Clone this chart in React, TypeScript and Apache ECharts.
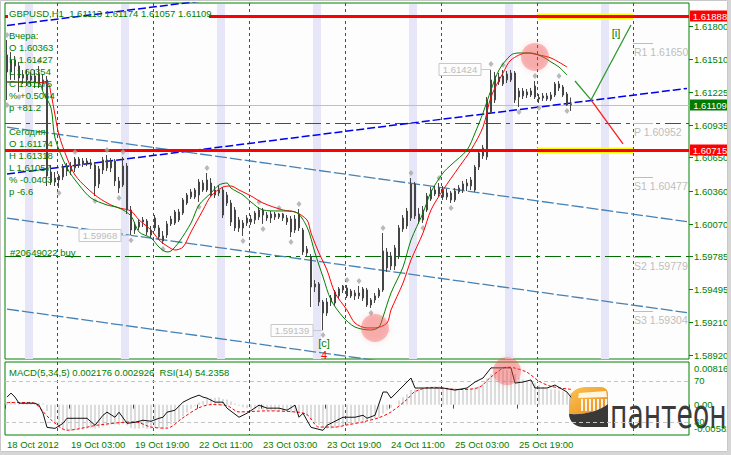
import React, { useEffect, useRef } from "react";
import * as echarts from "echarts";

const FONT = "'Liberation Sans', Arial, sans-serif";
const GREEN = "#008000";

// ---------------- data ----------------
const timeLabels = ["18 Oct 2012", "19 Oct 03:00", "19 Oct 19:00", "22 Oct 11:00", "23 Oct 03:00", "23 Oct 19:00", "24 Oct 11:00", "25 Oct 03:00", "25 Oct 19:00"];
const barSlots = 171;
const categories = Array.from({ length: barSlots }, (_, i) => String(i));

const opens = [1.61546,1.61398,1.61503,1.61450,1.61345,1.61371,1.61328,1.61363,1.61380,1.61293,
1.61328,1.60522,1.60435,1.60452,1.60479,1.60566,1.60531,1.60558,1.60636,1.60592,
1.60619,1.60601,1.60584,1.60418,1.60540,1.60628,1.60558,1.60619,1.60444,1.60409,
1.60575,1.60190,1.60015,1.60041,1.60085,1.60094,1.60015,1.60120,1.60033,1.59963,
1.59971,1.60068,1.60076,1.60173,1.60164,1.60251,1.60304,1.60304,1.60321,1.60426,
1.60365,1.60426,1.60321,1.60365,1.60365,1.60321,1.60251,1.60190,1.60103,1.60076,
1.60076,1.60111,1.60103,1.60129,1.60190,1.60146,1.60120,1.60155,1.60129,1.60155,
1.60120,1.60111,1.60015,1.60033,1.60015,1.59849,1.59779,1.59516,1.59543,1.59385,
1.59289,1.59385,1.59376,1.59438,1.59490,1.59508,1.59438,1.59464,1.59438,1.59420,
1.59490,1.59359,1.59403,1.59438,1.59490,1.59823,1.59788,1.59700,1.59788,1.60024,
1.60050,1.60120,1.60418,1.60155,1.60103,1.60190,1.60286,1.60365,1.60330,1.60363,
1.60304,1.60339,1.60278,1.60348,1.60365,1.60400,1.60400,1.60365,1.60566,1.60663,
1.60654,1.61048,1.61153,1.61310,1.61293,1.61328,1.61328,1.61389,1.61231,1.61188,
1.61223,1.61196,1.61179,1.61174,1.61170,1.61161,1.61161,1.61196,1.61293,1.61266,
1.61205,1.61113];

const closes = [1.61398,1.61503,1.61450,1.61345,1.61371,1.61328,1.61363,1.61310,1.61293,1.61328,
1.60488,1.60435,1.60470,1.60488,1.60566,1.60531,1.60575,1.60636,1.60592,1.60619,
1.60601,1.60584,1.60400,1.60549,1.60628,1.60558,1.60619,1.60444,1.60382,1.60575,
1.60190,1.60015,1.60050,1.60085,1.60103,1.59998,1.59971,1.60033,1.59954,1.59919,
1.60068,1.60111,1.60173,1.60103,1.60278,1.60321,1.60348,1.60365,1.60435,1.60365,
1.60453,1.60321,1.60365,1.60339,1.60146,1.60251,1.60085,1.60033,1.60033,1.60033,
1.60120,1.60085,1.60164,1.60190,1.60146,1.60120,1.60155,1.60129,1.60155,1.60120,
1.60085,1.59998,1.60111,1.60155,1.59823,1.59814,1.59516,1.59543,1.59385,1.59289,
1.59385,1.59420,1.59473,1.59499,1.59525,1.59438,1.59481,1.59438,1.59464,1.59499,
1.59359,1.59403,1.59438,1.59490,1.59831,1.59683,1.59700,1.59858,1.60033,1.60120,
1.60181,1.60418,1.60138,1.60103,1.60190,1.60313,1.60365,1.60330,1.60383,1.60304,
1.60339,1.60278,1.60356,1.60383,1.60418,1.60426,1.60453,1.60566,1.60689,1.60733,
1.61153,1.61328,1.61363,1.61354,1.61363,1.61380,1.61389,1.61153,1.61179,1.61231,
1.61196,1.61231,1.61275,1.61161,1.61188,1.61188,1.61196,1.61293,1.61258,1.61196,
1.61109,1.61109];

const lows = [1.61153,1.61328,1.61328,1.61223,1.61293,1.61275,1.61275,1.61258,1.61258,1.61240,
1.60400,1.60409,1.60400,1.60382,1.60452,1.60488,1.60496,1.60522,1.60558,1.60566,
1.60575,1.60549,1.60312,1.60382,1.60505,1.60531,1.60522,1.60400,1.60339,1.60391,
1.60155,1.59968,1.59980,1.60015,1.60041,1.59971,1.59945,1.60006,1.59928,1.59893,
1.59945,1.60050,1.60059,1.60085,1.60146,1.60234,1.60286,1.60286,1.60260,1.60348,
1.60348,1.60304,1.60295,1.60313,1.60120,1.60225,1.60050,1.60006,1.59998,1.59963,
1.60050,1.60059,1.60068,1.60103,1.60068,1.60094,1.60076,1.60103,1.60111,1.60094,
1.60059,1.59954,1.59989,1.60006,1.59796,1.59788,1.59341,1.59473,1.59350,1.59139,
1.59263,1.59350,1.59350,1.59411,1.59464,1.59420,1.59420,1.59403,1.59411,1.59394,
1.59341,1.59333,1.59376,1.59420,1.59473,1.59648,1.59665,1.59665,1.59761,1.59998,
1.60024,1.60094,1.60111,1.60068,1.60076,1.60173,1.60269,1.60313,1.60304,1.60278,
1.60278,1.60251,1.60260,1.60330,1.60339,1.60356,1.60365,1.60348,1.60540,1.60636,
1.60628,1.61030,1.61126,1.61284,1.61275,1.61301,1.61310,1.61126,1.61091,1.61161,
1.61170,1.61179,1.61161,1.61126,1.61144,1.61144,1.61144,1.61179,1.61231,1.61179,
1.61100,1.61057];

const highs = [1.61678,1.61573,1.61538,1.61485,1.61415,1.61415,1.61398,1.61415,1.61450,1.61380,
1.61363,1.60584,1.60522,1.60505,1.60592,1.60601,1.60610,1.60654,1.60654,1.60645,
1.60645,1.60636,1.60610,1.60575,1.60654,1.60671,1.60645,1.60636,1.60479,1.60654,
1.60601,1.60225,1.60085,1.60111,1.60129,1.60111,1.60050,1.60146,1.60059,1.60006,
1.60094,1.60138,1.60190,1.60199,1.60295,1.60339,1.60374,1.60383,1.60461,1.60453,
1.60514,1.60470,1.60400,1.60409,1.60391,1.60348,1.60278,1.60216,1.60129,1.60103,
1.60146,1.60146,1.60181,1.60216,1.60208,1.60173,1.60181,1.60173,1.60164,1.60164,
1.60146,1.60138,1.60146,1.60199,1.60033,1.59875,1.59805,1.59578,1.59560,1.59403,
1.59420,1.59446,1.59490,1.59516,1.59534,1.59534,1.59499,1.59490,1.59525,1.59516,
1.59508,1.59420,1.59464,1.59508,1.59989,1.59858,1.59823,1.59884,1.60059,1.60146,
1.60208,1.60470,1.60435,1.60208,1.60225,1.60339,1.60391,1.60400,1.60426,1.60400,
1.60374,1.60356,1.60383,1.60409,1.60444,1.60461,1.60479,1.60584,1.60715,1.60759,
1.61179,1.61424,1.61398,1.61389,1.61415,1.61406,1.61415,1.61406,1.61258,1.61258,
1.61249,1.61258,1.61319,1.61205,1.61214,1.61214,1.61223,1.61310,1.61318,1.61284,
1.61223,1.61174];

const fractalHighBars = [0, 8, 17, 25, 29, 50, 63, 68, 73, 85, 88, 94, 101, 108, 121, 124, 132, 138];
const fractalLowBars = [0, 3, 13, 22, 28, 31, 39, 48, 59, 64, 71, 79, 91, 104, 111, 128, 133, 140];

const maSlow = [[0,1.61310],[10,1.61301],[11,1.61205],[12,1.61021],[13,1.60846],[15,1.60645],[17,1.60496],[20,1.60382],[23,1.60295],[26,1.60234],[28,1.60208],[31,1.60181],[33,1.60103],[36,1.60015],[38,1.59928],[40,1.59875],[42,1.59840],[44,1.59866],[46,1.59998],[49,1.60190],[51,1.60313],[54,1.60391],[56,1.60400],[58,1.60365],[61,1.60313],[64,1.60251],[69,1.60190],[72,1.60173],[75,1.60103],[76,1.59989],[78,1.59814],[80,1.59665],[82,1.59464],[85,1.59315],[87,1.59201],[90,1.59158],[92,1.59158],[95,1.59201],[96,1.59315],[99,1.59551],[101,1.59753],[104,1.59989],[106,1.60190],[109,1.60365],[113,1.60566],[116,1.60715],[119,1.60916],[121,1.61179],[124,1.61389],[126,1.61503],[130,1.61564],[133,1.61546],[136,1.61520],[140,1.61441]];
const maFast = [[0,1.61310],[8,1.61301],[9,1.61223],[11,1.61083],[12,1.60820],[15,1.60558],[18,1.60409],[21,1.60295],[25,1.60234],[28,1.60208],[31,1.60138],[33,1.59998],[36,1.59945],[38,1.59866],[40,1.59823],[41,1.59831],[43,1.59910],[46,1.60076],[48,1.60234],[51,1.60339],[53,1.60409],[55,1.60426],[56,1.60382],[59,1.60321],[61,1.60260],[64,1.60190],[72,1.60173],[75,1.60041],[77,1.59814],[79,1.59604],[81,1.59403],[84,1.59254],[87,1.59166],[91,1.59140],[93,1.59166],[94,1.59254],[96,1.59464],[99,1.59691],[101,1.59928],[104,1.60164],[106,1.60348],[109,1.60514],[111,1.60584],[115,1.60715],[117,1.60864],[119,1.61039],[121,1.61240],[123,1.61415],[126,1.61546],[128,1.61564],[131,1.61564],[134,1.61529],[136,1.61485],[138,1.61441],[140,1.61371]];

const macdHist = [0.0005,0.0006,0.0006,0.0005,0.0004,0.0004,0.0004,0.0003,0.0003,0.0002,
-0.0012,-0.0025,-0.0036,-0.0044,-0.0048,-0.0050,-0.0050,-0.0049,-0.0048,-0.0047,
-0.0046,-0.0045,-0.0046,-0.0045,-0.0042,-0.0040,-0.0038,-0.0038,-0.0039,-0.0036,
-0.0040,-0.0045,-0.0046,-0.0046,-0.0045,-0.0046,-0.0046,-0.0044,-0.0045,-0.0046,
-0.0042,-0.0038,-0.0033,-0.0029,-0.0022,-0.0015,-0.0008,-0.0002,0.0004,0.0007,
0.0011,0.0012,0.0013,0.0014,0.0011,0.0010,0.0006,0.0002,-0.0002,-0.0005,
-0.0007,-0.0008,-0.0009,-0.0009,-0.0010,-0.0011,-0.0011,-0.0012,-0.0012,-0.0013,
-0.0013,-0.0015,-0.0016,-0.0016,-0.0019,-0.0022,-0.0029,-0.0034,-0.0039,-0.0044,
-0.0046,-0.0046,-0.0045,-0.0043,-0.0041,-0.0039,-0.0037,-0.0035,-0.0033,-0.0031,
-0.0030,-0.0029,-0.0027,-0.0025,-0.0017,-0.0011,-0.0006,0.0000,0.0008,0.0014,
0.0020,0.0028,0.0029,0.0029,0.0030,0.0032,0.0034,0.0035,0.0035,0.0034,
0.0033,0.0031,0.0031,0.0031,0.0031,0.0031,0.0031,0.0033,0.0036,0.0040,
0.0050,0.0058,0.0063,0.0066,0.0067,0.0066,0.0065,0.0058,0.0052,0.0048,
0.0045,0.0042,0.0041,0.0037,0.0034,0.0031,0.0029,0.0029,0.0027,0.0025,
0.0023,0.002176];

const macdSignal = [[0,0.0004],[6,0.0004],[11,-0.0029],[15,-0.0049],[23,-0.0039],[32,-0.0033],[36,-0.0043],[40,-0.0045],[44,-0.0025],[48,-0.0006],[51,0.0000],[55,-0.0002],[58,-0.0014],[65,-0.0012],[72,-0.0014],[75,-0.0019],[78,-0.0043],[82,-0.0043],[85,-0.0039],[89,-0.0033],[93,-0.0025],[96,-0.0014],[100,0.0010],[102,0.0025],[106,0.0033],[113,0.0029],[118,0.0033],[121,0.0053],[125,0.0072],[127,0.0070],[130,0.0062],[133,0.0045],[136,0.0035],[141,0.002926]];

const rsi = [[0,54.4],[1,58.3],[2,54.4],[3,48.5],[7,48.5],[8,46.6],[9,38.8],[10,25.1],[12,24.1],[14,29.0],[15,33.9],[20,33.9],[22,27.1],[24,36.8],[25,39.8],[27,34.9],[28,39.8],[30,29.0],[32,30.0],[34,32.0],[36,31.0],[38,33.9],[39,34.9],[40,39.8],[42,41.7],[44,49.5],[46,53.4],[48,56.3],[49,54.4],[50,53.4],[52,49.5],[54,49.5],[55,43.7],[58,34.9],[60,38.8],[63,46.6],[65,43.7],[68,43.7],[70,41.7],[72,46.6],[73,34.9],[74,38.8],[76,25.1],[79,22.2],[80,27.1],[84,34.9],[87,34.9],[89,36.8],[90,33.9],[92,36.8],[94,59.3],[95,59.3],[96,53.4],[98,61.2],[101,72.9],[102,63.2],[105,63.2],[109,63.2],[112,61.2],[115,63.2],[117,69.0],[119,72.9],[121,82.7],[124,82.7],[126,82.7],[127,68.0],[129,69.0],[131,71.0],[132,63.2],[135,63.2],[137,66.1],[140,59.3],[141,54.2358]];

const priceTicks = [1.618, 1.6151, 1.61225, 1.60935, 1.6065, 1.6036, 1.6007, 1.59785, 1.59495, 1.5921, 1.5892];
const resistancePrice = 1.61888;
const supportPrice = 1.60715;
const pivotPrice = 1.60952;
const orderPrice = 1.59785;
const bidPrice = 1.61109;
const pivotNames = ["R1", "P", "S1", "S2", "S3"];
const pivotValues = [1.6165, 1.60952, 1.60477, 1.59779, 1.59304];
const macdMarks = [0.008169, 0, -0.00582];
const macdMarkText = ["0.008169", "0.00", "-0.00582"];
const rsiLevels = [70, 30];

const trendUpper = [[0, 1.61805], [50, 1.62025]];
const trendLower = [[0, 1.60506], [170, 1.61254]];
const channelA = [[0, 1.60915], [170, 1.60088]];
const channelB = [[0, 1.60119], [170, 1.59292]];
const channelC = [[0, 1.59323], [170, 1.58496]];
const forecastUp = [[142, 1.61319], [146, 1.61153], [156, 1.61809]];
const forecastDown = [[146, 1.61153], [154, 1.60768]];
const highlightsMain = [[132, 1.61529], [92, 1.59158]];
const highlightsMacd = [[125, 0.00642]];
const priceFlags = [[121, 1.61424], [31, 1.59968], [79, 1.59139]];
const waveLabels = [[79, 1.59026], [79, 1.58918], [152, 1.61739]];
const waveText = ["[c]", "4", "[i]"];
const sessionStarts = [5, 29, 53, 77, 101, 125, 149];
const daySeparators = [13, 37, 61, 85, 109, 133, 157];

const headerText = "GBPUSD,H1  1.61113 1.61174 1.61057 1.61109";
const yesterdayStats = ["Вчера:", "O 1.60363", "H 1.61427", "L 1.60354", "C 1.61175", "% +0.5064", "p +81.2"];
const todayStats = ["Сегодня:", "O 1.61174", "H 1.61318", "L 1.61057", "% -0.0403", "p -6.6"];
const orderText = "#20649022 buy";
const indicatorText = "MACD(5,34,5) 0.002176 0.002926  RSI(14) 54.2358";
const logoText = "пантеон";

// ---------------- logo shapes ----------------
let shapesReady = false;
function registerShapes() {
  if (shapesReady) return;
  shapesReady = true;
  echarts.graphic.registerShape(
    "logoTop",
    echarts.graphic.extendPath("M569 414 L569 401 C569 392 577 387 586 387 L601 387 C605 387 608 390 608 394 L608 404 C599 411 585 415 569 414 Z", {})
  );
  echarts.graphic.registerShape(
    "logoBottom",
    echarts.graphic.extendPath("M569 414 C585 415 599 411 608 404 L608 427 L583 427 C575 427 569 421 569 414 Z", {})
  );
}

// ---------------- helpers ----------------
const half = (api: any) => api.size([1, 0])[0] / 2;

function levelSeries(price: number, from: number, to: number, style: any, z: number) {
  return {
    type: "custom", xAxisIndex: 0, yAxisIndex: 0, z, silent: true, clip: true,
    data: [[from, price, to]],
    encode: { x: 0, y: 1 },
    renderItem: (params: any, api: any) => {
      const cs = params.coordSys;
      const f = api.value(0), t = api.value(2);
      const x1 = f <= 0 ? cs.x : api.coord([f, 0])[0] - half(api);
      const x2 = t >= barSlots ? cs.x + cs.width : api.coord([t, 0])[0] - half(api);
      const y = Math.round(api.coord([0, api.value(1)])[1]) + 0.5;
      return { type: "line", shape: { x1, y1: y, x2, y2: y }, style };
    },
  };
}

function separatorSeries(grid: number) {
  return {
    type: "custom", xAxisIndex: grid, yAxisIndex: grid, z: 2, silent: true,
    data: daySeparators.map((d) => [d, 0]),
    encode: { x: 0, y: 1 },
    renderItem: (params: any, api: any) => {
      const cs = params.coordSys;
      const x = Math.round(api.coord([api.value(0), 0])[0] - half(api)) + 0.5;
      return { type: "line", shape: { x1: x, y1: cs.y, x2: x, y2: cs.y + cs.height }, style: { stroke: GREEN, lineWidth: 1, lineDash: [3, 3] } };
    },
  };
}

function trendSeries(data: number[][], color: string, width: number, dash: number[]) {
  return {
    type: "line", xAxisIndex: 0, yAxisIndex: 0, z: 3, silent: true, clip: true,
    data, symbol: "none", lineStyle: { color, width, type: dash },
  };
}

const showLabel = (idx: number) => idx % 16 === 0 && idx / 16 < timeLabels.length;

function buildOption() {
  const textStyle = (size: number, fill: string) => ({ font: `${size}px ${FONT}`, fill });
  const graphic: any[] = [];
  graphic.push({ type: "rect", z: 200, shape: { x: 0.5, y: 0.5, width: 727, height: 451 }, style: { fill: "none", stroke: "#c8c8c8", lineWidth: 1 } });
  graphic.push({ type: "rect", z: 200, shape: { x: 728, y: 0, width: 3, height: 455 }, style: { fill: "#d6d6d6" } });
  graphic.push({ type: "rect", z: 200, shape: { x: 0, y: 452, width: 731, height: 3 }, style: { fill: "#d6d6d6" } });
  graphic.push({ type: "rect", z: 100, shape: { x: 5, y: 15, width: 3, height: 3 }, style: { fill: "#ff0000" } });
  graphic.push({ type: "text", z: 100, x: 9, y: 13, style: { text: headerText, verticalAlign: "middle", ...textStyle(9.5, GREEN) } });
  yesterdayStats.forEach((t, k) => graphic.push({ type: "text", z: 100, x: 9, y: 35 + 12 * k, style: { text: t, verticalAlign: "middle", ...textStyle(9.5, GREEN) } }));
  todayStats.forEach((t, k) => graphic.push({ type: "text", z: 100, x: 9, y: 131 + 12 * k, style: { text: t, verticalAlign: "middle", ...textStyle(9.5, GREEN) } }));
  graphic.push({ type: "text", z: 100, x: 10, y: 252, style: { text: orderText, verticalAlign: "middle", ...textStyle(9.5, GREEN) } });
  graphic.push({ type: "text", z: 100, x: 9, y: 372, style: { text: indicatorText, verticalAlign: "middle", ...textStyle(9.5, GREEN) } });
  // logo
  graphic.push({
    type: "group", z: 150, children: [
      { type: "logoTop", x: 0, y: 0, style: { fill: new echarts.graphic.LinearGradient(0, 0, 1, 1, [{ offset: 0, color: "#fbc451" }, { offset: 1, color: "#ea8a1a" }]) } },
      { type: "polygon", shape: { points: [[579, 393], [606, 391], [607, 397], [578, 398]] }, style: { fill: "#fff6e2" } },
      ...[581, 585, 589, 593, 597, 601, 605].map((cx) => ({ type: "rect", shape: { x: cx, y: 399, width: 2, height: 12 }, style: { fill: "rgba(255,255,255,0.85)" } })),
      { type: "logoBottom", x: 0, y: 0, style: { fill: "#3b3838" } },
      { type: "text", x: 610, y: 414, scaleX: 0.665, scaleY: 1, style: { text: logoText, font: `40px 'DejaVu Sans', sans-serif`, fill: "#3a3a3a", verticalAlign: "middle" } },
    ],
  });

  const series: any[] = [
    // session bands
    {
      type: "custom", xAxisIndex: 0, yAxisIndex: 0, z: 1, silent: true,
      data: sessionStarts.map((s) => [s, 0]), encode: { x: 0, y: 1 },
      renderItem: (params: any, api: any) => {
        const cs = params.coordSys;
        const x0 = api.coord([api.value(0), 0])[0] - half(api);
        return { type: "rect", shape: { x: x0, y: cs.y + 1, width: half(api) * 4, height: cs.height - 1 }, style: { fill: "#e6e6f8" } };
      },
    },
    separatorSeries(0),
    separatorSeries(1),
    levelSeries(resistancePrice, 133, 157, { stroke: "#ffff00", lineWidth: 6 }, 3),
    levelSeries(supportPrice, 133, 157, { stroke: "#ffff00", lineWidth: 6 }, 3),
    levelSeries(bidPrice, 0, barSlots, { stroke: "#c0c0c0", lineWidth: 1 }, 3),
    levelSeries(pivotPrice, 0, barSlots, { stroke: "#ff0000", lineWidth: 1, lineDash: [16, 5, 4, 5] }, 3),
    levelSeries(orderPrice, 0, barSlots, { stroke: "#006e00", lineWidth: 1, lineDash: [16, 5, 4, 5] }, 3),
    trendSeries(trendUpper, "#0000f0", 1.5, [8, 3]),
    trendSeries(trendLower, "#0000f0", 1.5, [8, 3]),
    trendSeries(channelA, "#4682b4", 1.3, [12, 3]),
    trendSeries(channelB, "#4682b4", 1.3, [12, 3]),
    trendSeries(channelC, "#4682b4", 1.3, [12, 3]),
    // pivot levels
    {
      type: "custom", xAxisIndex: 0, yAxisIndex: 0, z: 3, silent: true,
      data: pivotValues.map((v) => [157, v]), encode: { x: 0, y: 1 },
      renderItem: (params: any, api: any) => {
        const x0 = api.coord([api.value(0), 0])[0] - half(api);
        const y = Math.round(api.coord([0, api.value(1)])[1]) + 0.5;
        return {
          type: "group", children: [
            { type: "line", shape: { x1: x0, y1: y, x2: x0 + 20, y2: y }, style: { stroke: "#bdbdbd", lineWidth: 1 } },
            { type: "text", x: x0 + 1, y: y + 8, style: { text: `${pivotNames[params.dataIndex]} ${api.value(1).toFixed(5)}`, font: `10.5px ${FONT}`, fill: "#bdbdbd", verticalAlign: "middle" } },
          ],
        };
      },
    },
    {
      type: "candlestick", xAxisIndex: 0, yAxisIndex: 0, z: 5, barWidth: 2, silent: true,
      data: opens.map((o, i) => [o, closes[i], lows[i], highs[i]]),
      itemStyle: { color: "#ffffff", color0: "#454545", borderColor: "#454545", borderColor0: "#454545", borderWidth: 1 },
    },
    levelSeries(resistancePrice, 51, barSlots, { stroke: "#ff0000", lineWidth: 3 }, 6),
    levelSeries(supportPrice, 0, barSlots, { stroke: "#ff0000", lineWidth: 3 }, 6),
    {
      type: "scatter", xAxisIndex: 0, yAxisIndex: 0, z: 6, silent: true, symbol: "diamond", symbolSize: [5, 6], symbolOffset: [0, -5],
      itemStyle: { color: "#a8a8a8" }, data: fractalHighBars.map((i) => [i, highs[i]]),
    },
    {
      type: "scatter", xAxisIndex: 0, yAxisIndex: 0, z: 6, silent: true, symbol: "diamond", symbolSize: [5, 6], symbolOffset: [0, 5],
      itemStyle: { color: "#a8a8a8" }, data: fractalLowBars.map((i) => [i, lows[i]]),
    },
    { type: "line", xAxisIndex: 0, yAxisIndex: 0, z: 7, silent: true, data: maSlow, smooth: 0.3, symbol: "none", lineStyle: { color: "#ff0000", width: 1 } },
    { type: "line", xAxisIndex: 0, yAxisIndex: 0, z: 7, silent: true, data: maFast, smooth: 0.3, symbol: "none", lineStyle: { color: "#008000", width: 1 } },
    { type: "line", xAxisIndex: 0, yAxisIndex: 0, z: 7, silent: true, data: forecastUp, symbol: "none", lineStyle: { color: "#2e9a2e", width: 1.3 } },
    { type: "line", xAxisIndex: 0, yAxisIndex: 0, z: 7, silent: true, data: forecastDown, symbol: "none", lineStyle: { color: "#ff1a1a", width: 1.3 } },
    // price flags
    {
      type: "custom", xAxisIndex: 0, yAxisIndex: 0, z: 8, silent: true,
      data: priceFlags, encode: { x: 0, y: 1 },
      renderItem: (params: any, api: any) => {
        const p = api.coord([api.value(0), api.value(1)]);
        const right = p[0] - 10;
        const y = Math.round(p[1]) + 0.5;
        return {
          type: "group", children: [
            { type: "line", shape: { x1: right, y1: y, x2: p[0], y2: y }, style: { stroke: "#c8c8c8", lineWidth: 1 } },
            { type: "rect", shape: { x: right - 42, y: y - 6, width: 42, height: 12 }, style: { fill: "#fdfdfd", stroke: "#c8c8c8", lineWidth: 1 } },
            { type: "text", x: right - 21, y, style: { text: api.value(1).toFixed(5), font: `9.5px ${FONT}`, fill: "#bcbcbc", align: "center", verticalAlign: "middle" } },
          ],
        };
      },
    },
    // wave labels
    {
      type: "custom", xAxisIndex: 0, yAxisIndex: 0, z: 8, silent: true,
      data: waveLabels, encode: { x: 0, y: 1 },
      renderItem: (params: any, api: any) => {
        const p = api.coord([api.value(0), api.value(1)]);
        return { type: "text", x: p[0] + 1, y: p[1], style: { text: waveText[params.dataIndex], font: `11px ${FONT}`, fill: params.dataIndex === 1 ? "#ff0000" : GREEN, align: "center", verticalAlign: "middle" } };
      },
    },
    {
      type: "scatter", xAxisIndex: 0, yAxisIndex: 0, z: 9, silent: true, symbolSize: 28, data: highlightsMain,
      itemStyle: { color: "rgba(242,70,70,0.42)", shadowBlur: 5, shadowColor: "rgba(242,70,70,0.5)" },
    },
    // right axis tick labels
    {
      type: "custom", xAxisIndex: 0, yAxisIndex: 0, z: 20, silent: true,
      data: priceTicks.map((v) => [0, v]), encode: { x: 0, y: 1 },
      renderItem: (params: any, api: any) => {
        const cs = params.coordSys;
        const x = cs.x + cs.width;
        const y = Math.round(api.coord([0, api.value(1)])[1]) + 0.5;
        return {
          type: "group", children: [
            { type: "line", shape: { x1: x, y1: y, x2: x + 4, y2: y }, style: { stroke: GREEN, lineWidth: 1 } },
            { type: "text", x: x + 5, y, style: { text: api.value(1).toFixed(5), font: `9.5px ${FONT}`, fill: GREEN, verticalAlign: "middle" } },
          ],
        };
      },
    },
    // highlighted axis boxes
    {
      type: "custom", xAxisIndex: 0, yAxisIndex: 0, z: 21, silent: true,
      data: [[0, resistancePrice], [0, bidPrice], [0, supportPrice]], encode: { x: 0, y: 1 },
      renderItem: (params: any, api: any) => {
        const cs = params.coordSys;
        const x = cs.x + cs.width + 1;
        const y = Math.round(api.coord([0, api.value(1)])[1]);
        const fill = params.dataIndex === 1 ? "#007a00" : "#ff0000";
        return {
          type: "group", children: [
            { type: "rect", shape: { x, y: y - 5.5, width: 39, height: 11 }, style: { fill } },
            { type: "text", x: x + 20, y: y + 0.5, style: { text: api.value(1).toFixed(5), font: `9.5px ${FONT}`, fill: "#ffffff", align: "center", verticalAlign: "middle" } },
          ],
        };
      },
    },
    // MACD pane
    { type: "bar", xAxisIndex: 1, yAxisIndex: 1, z: 3, silent: true, barWidth: 1, data: macdHist, itemStyle: { color: "#bcbcbc" } },
    { type: "line", xAxisIndex: 1, yAxisIndex: 1, z: 5, silent: true, data: macdSignal, smooth: 0.3, symbol: "none", lineStyle: { color: "#ff0000", width: 1, type: [3, 2] } },
    {
      type: "line", xAxisIndex: 1, yAxisIndex: 2, z: 6, silent: true, data: rsi, symbol: "none", lineStyle: { color: "#111111", width: 1 },
      markLine: { silent: true, symbol: "none", label: { show: false }, lineStyle: { color: "#c4c4c4", width: 1, type: [4, 3] }, data: rsiLevels.map((v) => ({ yAxis: v })) },
    },
    {
      type: "scatter", xAxisIndex: 1, yAxisIndex: 1, z: 9, silent: true, symbolSize: 28, data: highlightsMacd,
      itemStyle: { color: "rgba(242,70,70,0.42)", shadowBlur: 5, shadowColor: "rgba(242,70,70,0.5)" },
    },
    {
      type: "custom", xAxisIndex: 1, yAxisIndex: 1, z: 20, silent: true,
      data: macdMarks.map((v) => [0, v]), encode: { x: 0, y: 1 },
      renderItem: (params: any, api: any) => {
        const cs = params.coordSys;
        const shift = [6, -1, -7][params.dataIndex];
        const y = Math.round(api.coord([0, api.value(1)])[1]) + 0.5;
        return { type: "text", x: cs.x + cs.width + 5, y: y + shift, style: { text: macdMarkText[params.dataIndex], font: `9.5px ${FONT}`, fill: GREEN, verticalAlign: "middle" } };
      },
    },
    {
      type: "custom", xAxisIndex: 1, yAxisIndex: 2, z: 20, silent: true,
      data: rsiLevels.map((v) => [0, v]), encode: { x: 0, y: 1 },
      renderItem: (params: any, api: any) => {
        const cs = params.coordSys;
        const y = Math.round(api.coord([0, api.value(1)])[1]) + 0.5;
        return { type: "text", x: cs.x + cs.width + 5, y: y - 1, style: { text: String(api.value(1)), font: `9.5px ${FONT}`, fill: GREEN, verticalAlign: "middle" } };
      },
    },
  ];

  return {
    animation: false,
    backgroundColor: "#ffffff",
    grid: [
      { left: 5, top: 3, width: 684, height: 356, show: true, borderColor: GREEN, borderWidth: 1, backgroundColor: "#fdfdfd" },
      { left: 5, top: 362, width: 684, height: 73, show: true, borderColor: GREEN, borderWidth: 1, backgroundColor: "#fdfdfd" },
    ],
    xAxis: [
      { type: "category", gridIndex: 0, data: categories, boundaryGap: true, axisLine: { show: false }, axisTick: { show: false }, axisLabel: { show: false }, splitLine: { show: false } },
      {
        type: "category", gridIndex: 1, data: categories, boundaryGap: true, axisLine: { show: false },
        axisTick: { show: true, interval: showLabel, length: 4, lineStyle: { color: GREEN } },
        axisLabel: { show: true, interval: showLabel, formatter: (_v: string, idx: number) => timeLabels[idx / 16] || "", align: "left", color: GREEN, fontFamily: FONT, fontSize: 9.5, margin: 4 },
        splitLine: { show: false },
      },
    ],
    yAxis: [
      { type: "value", gridIndex: 0, position: "right", min: 1.5888625, max: 1.6200125, axisLine: { show: false }, axisTick: { show: false }, axisLabel: { show: false }, splitLine: { show: false } },
      { type: "value", gridIndex: 1, position: "right", min: -0.00582, max: 0.008169, axisLine: { show: false }, axisTick: { show: false }, axisLabel: { show: false }, splitLine: { show: false } },
      { type: "value", gridIndex: 1, position: "right", min: 17.7, max: 88.4, axisLine: { show: false }, axisTick: { show: false }, axisLabel: { show: false }, splitLine: { show: false } },
    ],
    graphic,
    series,
  };
}

export default function App() {
  const ref = useRef<HTMLDivElement>(null);
  useEffect(() => {
    if (!ref.current) return;
    registerShapes();
    const chart = echarts.init(ref.current, null, { renderer: "svg" });
    chart.setOption(buildOption() as any);
    return () => chart.dispose();
  }, []);
  return <div ref={ref} style={{ position: "absolute", left: 0, top: 0, width: 731, height: 455 }} />;
}
